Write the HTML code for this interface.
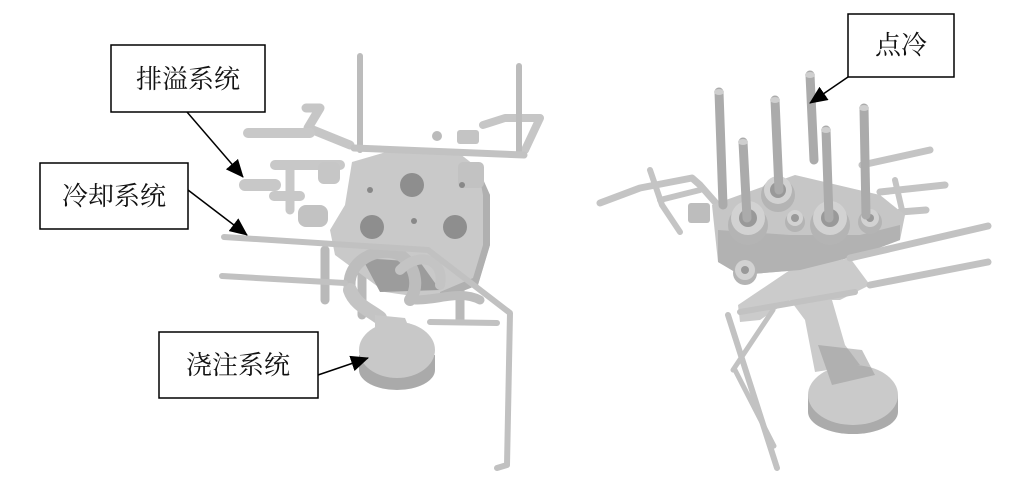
<!DOCTYPE html>
<html><head><meta charset="utf-8"><style>
html,body{margin:0;padding:0;background:#fff;}
svg{display:block;}
text{font-family:"Noto Serif CJK SC","Liberation Serif",serif;font-size:26px;fill:#111;}
</style></head><body>
<svg width="1025" height="503" viewBox="0 0 1025 503" xmlns="http://www.w3.org/2000/svg">
<defs>
<marker id="ah2" markerWidth="18" markerHeight="16" refX="17" refY="8" orient="auto" markerUnits="userSpaceOnUse" viewBox="0 0 18 16"><path d="M0,0 L18,8 L0,16 z" fill="#000"/></marker>
</defs>
<g stroke-linecap="round" stroke-linejoin="round" fill="none">
<!-- LEFT MODEL -->
<path d="M306,108 L320,108 L308,128 L350,145" stroke="#c6c6c6" stroke-width="9"/>
<path d="M248,133 L310,133" stroke="#c8c8c8" stroke-width="10"/>
<path d="M245,185 L275,185" stroke="#c8c8c8" stroke-width="12"/>
<path d="M275,165 L340,165" stroke="#c8c8c8" stroke-width="10"/>
<path d="M290,170 L290,210" stroke="#c8c8c8" stroke-width="9"/>
<path d="M274,196 L300,196" stroke="#c8c8c8" stroke-width="10"/>
<path d="M483,125 L505,118 L540,118 L525,150" stroke="#c6c6c6" stroke-width="8"/>
<path d="M325,250 L325,300" stroke="#b9b9b9" stroke-width="9"/>
<path d="M362,260 L362,315" stroke="#b9b9b9" stroke-width="9"/>
<path d="M460,270 L460,320" stroke="#b9b9b9" stroke-width="9"/>
<path d="M352,162 L400,148 L455,150 L478,168 L490,195 L490,245 L478,285 L440,300 L385,292 L335,255 L330,230 L345,205 Z" fill="#c9c9c9" stroke="none"/>
<path d="M478,168 L490,195 L490,245 L478,285 L440,300 L440,292 L473,278 L483,245 L483,195 Z" fill="#b0b0b0" stroke="none"/>
<rect x="458" y="162" width="26" height="26" rx="5" fill="#c2c2c2" stroke="none"/>
<rect x="318" y="162" width="22" height="22" rx="6" fill="#c6c6c6" stroke="none"/>
<rect x="298" y="205" width="30" height="22" rx="8" fill="#c2c2c2" stroke="none"/>
<rect x="457" y="130" width="22" height="14" rx="3" fill="#c4c4c4" stroke="none"/>
<circle cx="437" cy="136" r="5" fill="#bbb" stroke="none"/>
<circle cx="412" cy="185" r="12" fill="#8e8e8e" stroke="none"/>
<circle cx="372" cy="227" r="12" fill="#8e8e8e" stroke="none"/>
<circle cx="455" cy="227" r="12" fill="#8e8e8e" stroke="none"/>
<circle cx="370" cy="190" r="3" fill="#888" stroke="none"/>
<circle cx="414" cy="221" r="3" fill="#888" stroke="none"/>
<circle cx="462" cy="185" r="3" fill="#888" stroke="none"/>
<path d="M362,258 L420,262 L440,290 L380,292 Z" fill="#9c9c9c" stroke="none"/>
<path d="M350,290 C345,260 380,245 400,255 C415,265 420,285 410,300" stroke="#bdbdbd" stroke-width="12"/>
<path d="M400,270 C420,250 445,260 440,285" stroke="#c4c4c4" stroke-width="10"/>
<path d="M350,290 C355,305 370,310 380,318" stroke="#c4c4c4" stroke-width="14"/>
<path d="M415,300 C440,300 460,290 480,300" stroke="#bdbdbd" stroke-width="9"/>
<path d="M359,355 L359,370 A38,20 0 0 0 435,370 L435,355" fill="#aaaaaa" stroke="none"/>
<ellipse cx="397" cy="350" rx="38" ry="28" fill="#c8c8c8" stroke="none"/>
<path d="M375,330 L375,315 L405,318 L410,330" fill="#c8c8c8" stroke="none"/>
<path d="M360,56 L360,150" stroke="#bcbcbc" stroke-width="6"/>
<path d="M519,66 L519,152" stroke="#bcbcbc" stroke-width="6"/>
<path d="M354,148 L524,155" stroke="#c2c2c2" stroke-width="7"/>
<path d="M224,237 L428,250 L510,313 L507,465 L497,468" stroke="#c1c1c1" stroke-width="6"/>
<path d="M222,276 L345,283" stroke="#c1c1c1" stroke-width="6"/>
<path d="M430,322 L497,323" stroke="#c1c1c1" stroke-width="6"/>

<!-- RIGHT MODEL -->
<path d="M600,203 L640,188 L692,178 L700,185 L722,210" stroke="#c4c4c4" stroke-width="7"/>
<path d="M650,170 L662,205 L680,232" stroke="#c4c4c4" stroke-width="6"/>
<path d="M660,200 L700,190" stroke="#c4c4c4" stroke-width="6"/>
<rect x="688" y="203" width="22" height="20" rx="3" fill="#bdbdbd" stroke="none"/>
<path d="M862,165 L930,150" stroke="#c4c4c4" stroke-width="7"/>
<path d="M880,192 L945,185" stroke="#c4c4c4" stroke-width="7"/>
<path d="M900,212 L926,210" stroke="#c4c4c4" stroke-width="7"/>
<path d="M895,180 L902,210" stroke="#c4c4c4" stroke-width="6"/>
<!-- handle / arm -->
<path d="M738,305 L790,270 L850,258 L870,285 L840,300 L832,300 L845,345 L860,365 L815,372 L805,320 L790,300 L760,320 L740,322 Z" fill="#cbcbcb" stroke="none"/>
<path d="M808,395 L808,412 A45,22 0 0 0 898,412 L898,395 Z" fill="#ababab" stroke="none"/>
<ellipse cx="853" cy="395" rx="45" ry="30" fill="#cacaca" stroke="none"/>
<path d="M818,345 L862,350 L875,375 L832,385 Z" fill="#9f9f9f" stroke="none" opacity="0.6"/>
<!-- plate -->
<path d="M712,205 L795,175 L880,195 L905,215 L900,240 L860,255 L800,270 L740,275 L718,262 Z" fill="#c6c6c6" stroke="none"/>
<path d="M718,230 L790,235 L860,235 L900,225 L900,240 L860,255 L800,270 L740,275 L718,262 Z" fill="#b2b2b2" stroke="none"/>
<path d="M850,258 L988,226" stroke="#c2c2c2" stroke-width="7"/>
<path d="M870,285 L988,262" stroke="#c2c2c2" stroke-width="7"/>
<g fill="#b4b4b4" stroke="none">
<circle cx="748" cy="225" r="20"/><circle cx="830" cy="225" r="20"/><circle cx="778" cy="195" r="17"/><circle cx="870" cy="222" r="12"/><circle cx="795" cy="222" r="10"/><circle cx="745" cy="273" r="12"/>
</g>
<g fill="#d2d2d2" stroke="none">
<circle cx="748" cy="218" r="17"/><circle cx="830" cy="218" r="17"/><circle cx="778" cy="190" r="14"/><circle cx="870" cy="218" r="9"/><circle cx="795" cy="218" r="8"/><circle cx="745" cy="270" r="10"/>
</g>
<g fill="#999" stroke="none">
<circle cx="748" cy="218" r="9"/><circle cx="830" cy="218" r="9"/><circle cx="778" cy="190" r="8"/><circle cx="870" cy="218" r="4"/><circle cx="795" cy="218" r="4"/><circle cx="745" cy="270" r="4"/>
</g>
<g stroke="#ababab" stroke-width="9">
<path d="M719,92 L723,205"/><path d="M775,100 L779,190"/><path d="M810,75 L814,160"/><path d="M864,108 L866,215"/><path d="M743,142 L747,218"/><path d="M826,130 L829,218"/>
</g>
<g fill="#cfcfcf" stroke="none">
<ellipse cx="719" cy="92" rx="5" ry="3"/><ellipse cx="775" cy="100" rx="5" ry="3"/><ellipse cx="810" cy="75" rx="5" ry="3"/><ellipse cx="864" cy="108" rx="5" ry="3"/><ellipse cx="743" cy="142" rx="5" ry="3"/><ellipse cx="826" cy="130" rx="5" ry="3"/>
</g>
<path d="M740,312 L855,292" stroke="#c2c2c2" stroke-width="6"/>
<path d="M728,315 L777,468" stroke="#c2c2c2" stroke-width="6"/>
<path d="M733,370 L773,310" stroke="#c2c2c2" stroke-width="5"/>
<path d="M735,370 L774,446" stroke="#c2c2c2" stroke-width="5"/>
</g>

<g stroke="#000" stroke-width="1.5" fill="#fff">
<rect x="111" y="45" width="154" height="67"/>
<rect x="40" y="163" width="148" height="66"/>
<rect x="159" y="332" width="159" height="66"/>
<rect x="848" y="14" width="106" height="63"/>
</g>
<g stroke="#000" stroke-width="1.5">
<line x1="187" y1="112" x2="243" y2="177" marker-end="url(#ah2)"/>
<line x1="188" y1="190" x2="247" y2="235" marker-end="url(#ah2)"/>
<line x1="318" y1="375" x2="368" y2="358" marker-end="url(#ah2)"/>
<line x1="848" y1="77" x2="810" y2="103" marker-end="url(#ah2)"/>
</g>
<text x="188" y="88" text-anchor="middle">排溢系统</text>
<text x="114" y="205" text-anchor="middle">冷却系统</text>
<text x="238" y="374" text-anchor="middle">浇注系统</text>
<text x="901" y="54" text-anchor="middle">点冷</text>
</svg>
</body></html>
